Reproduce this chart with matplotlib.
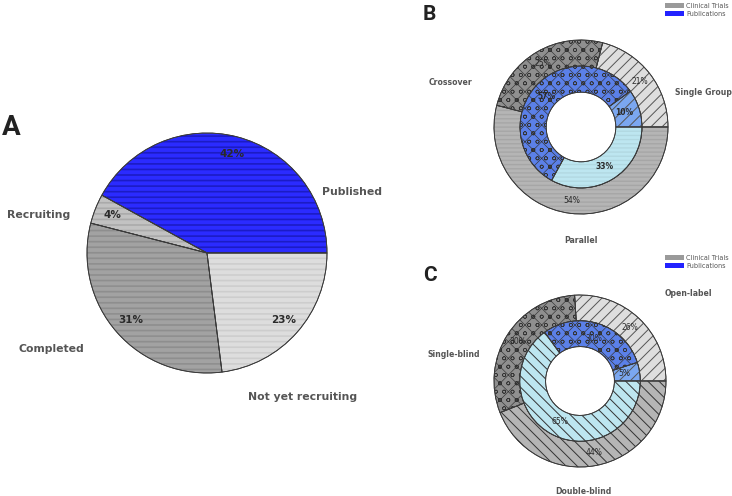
import matplotlib
matplotlib.use("Agg")
import matplotlib.pyplot as plt
from matplotlib.patches import Patch

# ---------------- data ----------------
a_labels = ["Published", "Recruiting", "Completed", "Not yet recruiting"]
a_values = [42, 4, 31, 23]

b_labels = ["Single Group", "Crossover", "Parallel"]
b_trials = [21, 25, 54]
b_pubs = [10, 57, 33]

c_labels = ["Open-label", "Single-blind", "Double-blind"]
c_trials = [26, 30, 44]
c_pubs = [5, 30, 65]

legend_labels = ["Clinical Trials", "Publications"]

# ---------------- styles ----------------
W, H = 732, 496
fig = plt.figure(figsize=(W / 100, H / 100), dpi=100)
fig.patch.set_facecolor("white")

EDGE = "#3a3a3a"
LABEL_C = "#555555"
PCT_C = "#2a2a2a"


def make_ax(cx, cy, R, hw, hh):
    ax = fig.add_axes([(cx - hw) / W, 1 - (cy + hh) / H, 2 * hw / W, 2 * hh / H])
    ax.axis("off")
    return ax, (-hw / R, hw / R), (-hh / R, hh / R)


def ring(ax, values, colors, hatches, hcolors, hlws, radius, width, pctdist, pct_fs, pct_w):
    wp = dict(edgecolor=EDGE, linewidth=0.6)
    if width is not None:
        wp["width"] = width
    _, _, autotexts = ax.pie(values, colors=colors, startangle=0, counterclock=True,
                             radius=radius, wedgeprops=wp, pctdistance=pctdist,
                             autopct=lambda p: f"{p:.0f}%")
    for t in autotexts:
        t.set_fontsize(pct_fs)
        t.set_fontweight(pct_w)
        t.set_color(PCT_C)
        t.set_zorder(5)
    for i, (v_h, hc, lw) in enumerate(zip(hatches, hcolors, hlws)):
        with plt.rc_context({"hatch.linewidth": lw}):
            wp2 = dict(facecolor="none", linewidth=0)
            if width is not None:
                wp2["width"] = width
            hl = [v_h if j == i else None for j in range(len(values))]
            over, _ = ax.pie(values, startangle=0, counterclock=True, radius=radius,
                             wedgeprops=wp2, hatch=hl)
            for j, w in enumerate(over):
                if j != i:
                    w.set_visible(False)
                    continue
                w.set_edgecolor(hc)
                w.set_linewidth(0)
                if hasattr(w, "set_hatch_linewidth"):
                    w.set_hatch_linewidth(lw)
    wp3 = dict(facecolor="none", edgecolor=EDGE, linewidth=0.6)
    if width is not None:
        wp3["width"] = width
    ax.pie(values, startangle=0, counterclock=True, radius=radius, wedgeprops=wp3)


# ---------------- Panel A ----------------
axA, xl, yl = make_ax(207, 253, 120, 205, 250)
ring(axA, a_values,
     ["#2b2bff", "#c2c2c2", "#a2a2a2", "#dddddd"],
     ["---", "---", "---", "---"],
     [(0, 0, 0.35, 0.35), (0, 0, 0, 0.12), (0, 0, 0, 0.12), (0, 0, 0, 0.07)],
     [1.2, 1.2, 1.2, 1.2],
     1.0, None, 0.85, 7.5, "bold")
axA.set_xlim(*xl); axA.set_ylim(*yl); axA.set_aspect("equal")
a_pos = [(0.96, 0.51, "left"), (-1.14, 0.32, "right"), (-1.025, -0.80, "right"), (0.34, -1.20, "left")]
for lab, (x, y, ha) in zip(a_labels, a_pos):
    axA.text(x, y, lab, ha=ha, va="center", fontsize=7.8, fontweight="bold",
             color=LABEL_C, family="DejaVu Sans")

# ---------------- Panel B ----------------
axB, xl, yl = make_ax(581, 127, 87, 150, 125)
ring(axB, b_trials, ["#dedede", "#8f8f8f", "#b5b5b5"],
     ["///", "xxoo", "----"],
     ["#555555", "#333333", (0, 0, 0, 0.08)],
     [0.7, 0.45, 1.0],
     1.0, 0.3, 0.85, 5.5, "normal")
ring(axB, b_pubs, ["#7ba7f0", "#5b80e8", "#bde6f0"],
     ["///", "xxoo", "----"],
     ["#555555", "#333333", (0, 0, 0, 0.06)],
     [0.7, 0.45, 1.0],
     0.7, 0.3, 0.75, 5.5, "bold")
axB.set_xlim(*xl); axB.set_ylim(*yl); axB.set_aspect("equal")
b_pos = [(1.08, 0.40, "left"), (-1.25, 0.51, "right"), (0.0, -1.30, "center")]
for lab, (x, y, ha) in zip(b_labels, b_pos):
    axB.text(x, y, lab, ha=ha, va="center", fontsize=5.6, fontweight="bold",
             color=LABEL_C, family="DejaVu Sans")

# ---------------- Panel C ----------------
axC, xl, yl = make_ax(580, 381, 86, 150, 113)
ring(axC, c_trials, ["#dedede", "#8f8f8f", "#b5b5b5"],
     ["///", "xxoo", "\\\\\\"],
     ["#555555", "#333333", "#333333"],
     [0.7, 0.45, 0.7],
     1.0, 0.3, 0.85, 5.5, "normal")
ring(axC, c_pubs, ["#7ba7f0", "#5b80e8", "#bde6f0"],
     ["///", "xxoo", "\\\\\\"],
     ["#555555", "#333333", "#333333"],
     [0.7, 0.45, 0.7],
     0.7, 0.3, 0.75, 5.5, "normal")
axC.set_xlim(*xl); axC.set_ylim(*yl); axC.set_aspect("equal")
c_pos = [(0.98, 1.02, "left"), (-1.16, 0.31, "right"), (0.04, -1.29, "center")]
for lab, (x, y, ha) in zip(c_labels, c_pos):
    axC.text(x, y, lab, ha=ha, va="center", fontsize=5.6, fontweight="bold",
             color=LABEL_C, family="DejaVu Sans")

# ---------------- legends ----------------
handles = [Patch(facecolor="#9a9a9a", edgecolor="none"),
           Patch(facecolor="#2222ff", edgecolor="none")]
for ytop in (1.0, 1 - 252 / H):
    leg = fig.legend(handles, legend_labels, loc="upper right",
                     bbox_to_anchor=(1.0, ytop), frameon=False, fontsize=4.7,
                     handlelength=3.0, handleheight=0.8, handletextpad=0.3,
                     labelspacing=0.25, borderaxespad=0.1)
    for t in leg.get_texts():
        t.set_color("#555555")

# ---------------- panel letters ----------------
fig.text(2 / W, 1 - 135 / H, "A", fontsize=20, fontweight="bold", family="Roboto",
         color="#222222", ha="left", va="baseline")
fig.text(423 / W, 1 - 20 / H, "B", fontsize=15, fontweight="bold", family="Roboto",
         color="#222222", ha="left", va="baseline")
fig.text(423 / W, 1 - 281 / H, "C", fontsize=15, fontweight="bold", family="Roboto",
         color="#222222", ha="left", va="baseline")

fig.savefig("out.png", dpi=100, facecolor="white")
